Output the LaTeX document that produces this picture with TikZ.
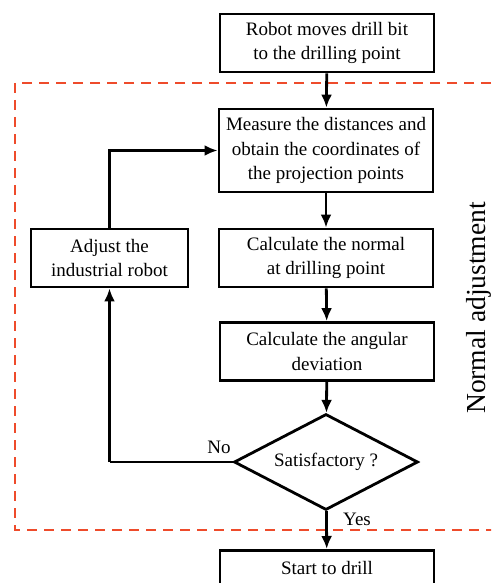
\documentclass[tikz,border=0pt]{standalone}
\usepackage{fontspec}
\setmainfont{Liberation Serif}
\usetikzlibrary{shapes.geometric,arrows.meta}
\definecolor{dashred}{HTML}{EE4B2B}
\tikzset{
  box/.style={draw=black,line width=2.8pt,minimum width=214pt,minimum height=58pt,align=center,inner sep=2pt,font=\fontsize{19}{24.5}\selectfont},
  arr/.style={line width=2.8pt,-{Latex[length=13pt,width=11pt]}},
  conn/.style={line width=2.8pt},
  lbl/.style={font=\fontsize{19}{22}\selectfont}
}
\begin{document}
\begin{tikzpicture}[x=1pt,y=-1pt]
\useasboundingbox (0,0) rectangle (491,583);
\clip (0,0) rectangle (491,583);
\fill[white] (0,0) rectangle (491,583);
\draw[dashred,line width=1.8pt,dash pattern=on 10pt off 7pt] (15,83) rectangle (520,530);
\node[box] (robot) at (327,43) {Robot moves drill bit\\to the drilling point};
\node[box,minimum height=83pt] (measure) at (326,150.5) {Measure the distances and\\obtain the coordinates of\\the projection points};
\node[box] (normal) at (326,258) {Calculate the normal\\at drilling point};
\node[box] (angular) at (327,351.5) {Calculate the angular\\deviation};
\node[box,minimum width=157pt] (adjust) at (109.5,258) {Adjust the\\industrial robot};
\node[draw=black,line width=2.8pt,diamond,aspect=1.9,inner sep=0pt,minimum width=184pt,minimum height=96pt,font=\fontsize{19}{22}\selectfont] (sat) at (326,462) {Satisfactory ?};
\node[box,anchor=north,minimum height=0pt,inner ysep=0pt,text height=24pt,text depth=36pt] (start) at (327,549) {Start to drill};
\node[rotate=90,font=\fontsize{27.5}{30}\selectfont] (na) at (479,308) {Normal adjustment};
\draw[arr] (robot) -- (measure);
\draw[arr] (measure) -- (normal);
\draw[arr] (normal) -- (angular);
\draw[arr] (angular) -- (sat);
\draw[arr] (sat) -- (start);
\node[lbl] (yes) at (357,519) {Yes};
\coordinate (corner) at (adjust.south |- sat.west);
\draw[conn] (sat.west) -- (corner);
\draw[arr] (corner) -- (adjust.south);
\draw[arr] (adjust.north) |- (measure.west);
\node[lbl] (no) at (219,447) {No};
\end{tikzpicture}
\end{document}
